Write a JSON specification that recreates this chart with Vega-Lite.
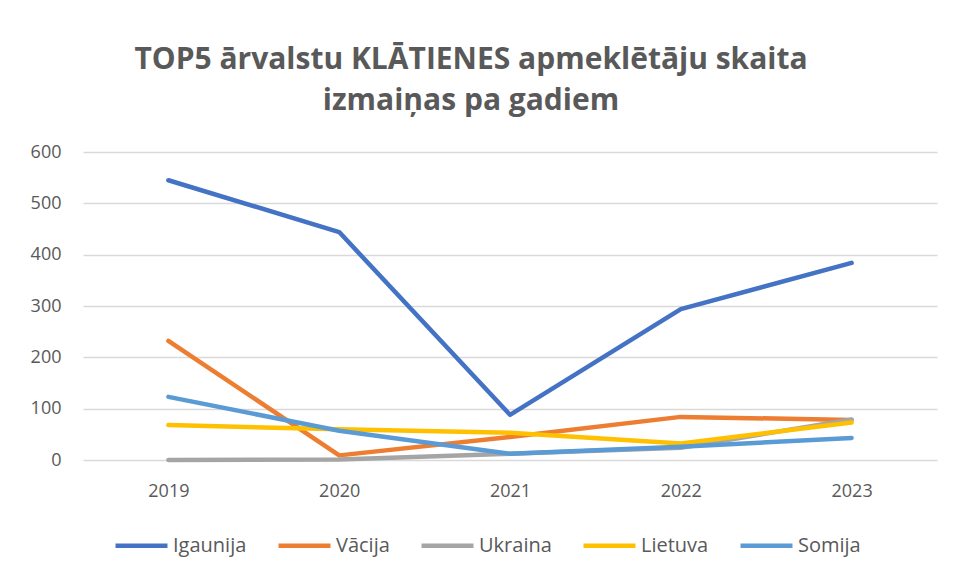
{
  "$schema": "https://vega.github.io/schema/vega-lite/v6.json",
  "width": 854,
  "height": 308,
  "autosize": "none",
  "padding": {"left": 83, "top": 152, "right": 17, "bottom": 117},
  "background": "white",
  "title": {
    "text": ["TOP5 ārvalstu KLĀTIENES apmeklētāju skaita", "izmaiņas pa gadiem"],
    "anchor": "middle",
    "frame": "group",
    "dx": -39,
    "offset": 27,
    "font": "Open Sans",
    "fontSize": 30,
    "fontWeight": "bold",
    "color": "#595959",
    "lineHeight": 41
  },
  "data": {
    "values": [
      {"year": "2019", "country": "Igaunija", "value": 545},
      {"year": "2020", "country": "Igaunija", "value": 444},
      {"year": "2021", "country": "Igaunija", "value": 88},
      {"year": "2022", "country": "Igaunija", "value": 294},
      {"year": "2023", "country": "Igaunija", "value": 384},
      {"year": "2019", "country": "Vācija", "value": 232},
      {"year": "2020", "country": "Vācija", "value": 9},
      {"year": "2021", "country": "Vācija", "value": 45},
      {"year": "2022", "country": "Vācija", "value": 84},
      {"year": "2023", "country": "Vācija", "value": 78},
      {"year": "2019", "country": "Ukraina", "value": 0},
      {"year": "2020", "country": "Ukraina", "value": 1},
      {"year": "2021", "country": "Ukraina", "value": 12},
      {"year": "2022", "country": "Ukraina", "value": 24},
      {"year": "2023", "country": "Ukraina", "value": 79},
      {"year": "2019", "country": "Lietuva", "value": 68},
      {"year": "2020", "country": "Lietuva", "value": 60},
      {"year": "2021", "country": "Lietuva", "value": 53},
      {"year": "2022", "country": "Lietuva", "value": 32},
      {"year": "2023", "country": "Lietuva", "value": 73},
      {"year": "2019", "country": "Somija", "value": 123},
      {"year": "2020", "country": "Somija", "value": 57},
      {"year": "2021", "country": "Somija", "value": 12},
      {"year": "2022", "country": "Somija", "value": 26},
      {"year": "2023", "country": "Somija", "value": 43}
    ]
  },
  "mark": {"type": "line", "strokeWidth": 4.5, "strokeCap": "round", "strokeJoin": "round"},
  "encoding": {
    "x": {
      "field": "year",
      "type": "ordinal",
      "scale": {"type": "point", "padding": 0.5},
      "axis": {"title": null, "labelAngle": 0, "domain": false, "ticks": false, "grid": false, "labelPadding": 22, "labelFontSize": 18, "labelColor": "#595959", "labelFont": "Open Sans"}
    },
    "y": {
      "field": "value",
      "type": "quantitative",
      "scale": {"domain": [0, 600]},
      "axis": {"title": null, "values": [0, 100, 200, 300, 400, 500, 600], "domain": false, "ticks": false, "gridColor": "#d9d9d9", "gridWidth": 1.5, "labelPadding": 22, "labelFontSize": 18, "labelColor": "#595959", "labelFont": "Open Sans"}
    },
    "color": {
      "field": "country",
      "type": "nominal",
      "sort": ["Igaunija", "Vācija", "Ukraina", "Lietuva", "Somija"],
      "scale": {
        "domain": ["Igaunija", "Vācija", "Ukraina", "Lietuva", "Somija"],
        "range": ["#4472C4", "#ED7D31", "#A5A5A5", "#FFC000", "#5B9BD5"]
      },
      "legend": {
        "title": null,
        "orient": "none",
        "direction": "horizontal",
        "legendX": 30,
        "legendY": 365,
        "symbolType": "stroke",
        "symbolSize": 2700,
        "symbolStrokeWidth": 4.5,
        "labelFontSize": 20,
        "labelColor": "#595959",
        "labelFont": "Open Sans",
        "labelOffset": 3,
        "columnPadding": 22
      }
    },
    "order": {"field": "country"}
  },
  "config": {"view": {"stroke": null}}
}
